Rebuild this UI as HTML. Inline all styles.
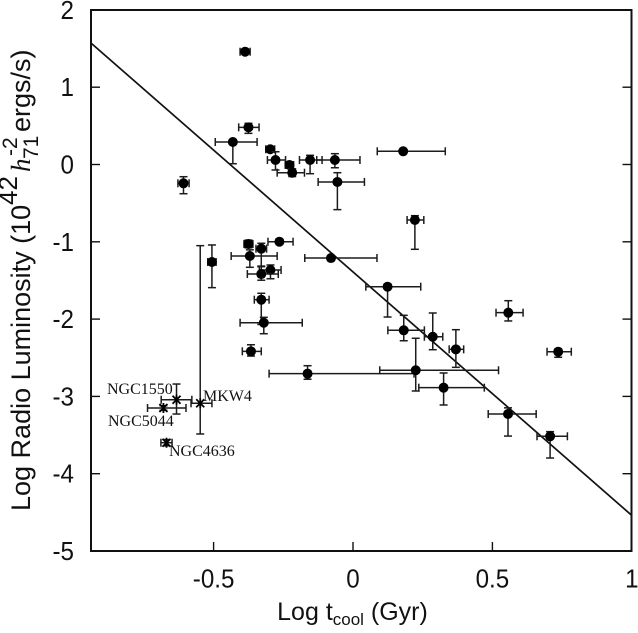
<!DOCTYPE html>
<html>
<head>
<meta charset="utf-8">
<title>Log Radio Luminosity vs Log t_cool</title>
<style>
html,body{margin:0;padding:0;background:#fff;}
svg{display:block;}
text{font-family:"Liberation Sans",Arial,sans-serif;fill:#111;}
.tick{font-size:26px;}
.name{font-family:"Liberation Serif","Times New Roman",serif;font-size:16px;}
</style>
</head>
<body>
<svg id="chart" width="638" height="633" viewBox="0 0 638 633" xmlns="http://www.w3.org/2000/svg">
  <g id="marks"></g>
  <g id="axes"></g>
  <text class="name" x="107" y="394">NGC1550</text>
  <text class="name" x="108" y="426">NGC5044</text>
  <text class="name" x="169" y="456">NGC4636</text>
  <text class="name" x="203" y="401">MKW4</text>
  <text x="352.5" y="620" text-anchor="middle" font-size="25">Log t<tspan font-size="17" dy="5">cool</tspan><tspan dy="-5"> (Gyr)</tspan></text>
  <g transform="translate(30,511) rotate(-90)">
    <text x="0" y="0" font-size="27">Log Radio Luminosity (10</text>
    <text x="306" y="-13" font-size="26">42</text>
    <text x="339" y="0" font-size="27" style="font-family:'Liberation Serif',serif;font-style:italic">h</text>
    <text x="355" y="-13" font-size="21">-2</text>
    <text x="352" y="8" font-size="21">71</text>
    <text x="379" y="0" font-size="27">ergs/s)</text>
  </g>
</svg>
<script>
// Axis ticks
var xTicks = [-0.5, 0, 0.5, 1];
var xTickLabels = ["-0.5", "0", "0.5", "1"];
var yTicks = [2, 1, 0, -1, -2, -3, -4, -5];
var yTickLabels = ["2", "1", "0", "-1", "-2", "-3", "-4", "-5"];

// Circle-marker clusters: log cooling time, log radio luminosity, asymmetric errors
var logTcool = [-0.387,-0.375,-0.431,-0.297,-0.278,-0.228,-0.218,-0.154,-0.065,-0.056,0.18,-0.608,-0.264,-0.375,-0.329,-0.37,-0.506,-0.296,-0.329,-0.329,-0.32,-0.366,-0.163,0.222,-0.079,0.124,0.182,0.286,0.369,0.557,0.736,0.225,0.325,0.556,0.707];
var logLradio = [1.459,0.481,0.291,0.197,0.058,-0.006,-0.106,0.058,0.058,-0.226,0.171,-0.243,-0.999,-1.028,-1.089,-1.184,-1.261,-1.365,-1.417,-1.749,-2.047,-2.417,-2.706,-0.718,-1.21,-1.581,-2.145,-2.228,-2.391,-1.917,-2.422,-2.662,-2.887,-3.228,-3.516];
var tErrMinus = [0.018,0.035,0.063,0.016,0.029,0.015,0.054,0.038,0.065,0.069,0.093,0.02,0.041,0.016,0.019,0.067,0.015,0.04,0.05,0.025,0.085,0.031,0.138,0.028,0.094,0.078,0.057,0.03,0.024,0.044,0.04,0.129,0.089,0.071,0.047];
var tErrPlus = [0.018,0.038,0.087,0.016,0.036,0.015,0.044,0.043,0.09,0.097,0.151,0.02,0.049,0.016,0.019,0.098,0.015,0.038,0.061,0.028,0.138,0.037,0.382,0.032,0.165,0.119,0.074,0.036,0.028,0.053,0.047,0.297,0.146,0.101,0.062];
var lErrDown = [0.02,0.078,0.281,0.03,0.129,0.04,0.05,0.177,0.1,0.358,0.02,0.135,0.03,0.05,0.233,0.146,0.332,0.113,0.08,0.32,0.142,0.061,0.072,0.379,0.03,0.392,0.135,0.168,0.233,0.107,0.072,0.268,0.224,0.285,0.281];
var lErrUp = [0.02,0.052,0.026,0.03,0.107,0.04,0.05,0.061,0.082,0.12,0.02,0.085,0.03,0.05,0.07,0.08,0.22,0.065,0.103,0.083,0.07,0.085,0.103,0.056,0.03,0.03,0.194,0.307,0.254,0.155,0.03,0.414,0.19,0.08,0.06];

// Named groups: star markers
var namedGroups = ["NGC1550", "NGC5044", "MKW4", "NGC4636"];
var namedTcool = [-0.633, -0.68, -0.548, -0.669];
var namedLradio = [-3.043, -3.15, -3.089, -3.599];
var namedTMinus = [0.055, 0.057, 0.033, 0.02];
var namedTPlus = [0.055, 0.081, 0.042, 0.02];
var namedLDown = [0.185, 0.03, 0.397, 0.04];
var namedLUp = [0.203, 0.03, 2.039, 0.04];

// Fit line end points
var fitT = [-0.94, 1];
var fitL = [1.572, -4.54];

var NS = "http://www.w3.org/2000/svg";
var INK = "#1c1c1c";
var left = 91, right = 631.5, top_ = 10, bottom = 551;
function X(v) { return 353 + 278.8 * v; }
function Y(v) { return 164.5 - 77.3 * v; }
function mk(parent, tag, attrs) {
  var el = document.createElementNS(NS, tag);
  for (var k in attrs) el.setAttribute(k, attrs[k]);
  parent.appendChild(el);
  return el;
}
function seg(parent, x1, y1, x2, y2, w, color) {
  return mk(parent, "line", {x1: x1, y1: y1, x2: x2, y2: y2, stroke: color || INK, "stroke-width": w || 1.5});
}
function errorBars(parent, x, y, xm, xp, yd, yu) {
  var c = 4;
  seg(parent, X(x - xm), Y(y), X(x + xp), Y(y));
  seg(parent, X(x - xm), Y(y) - c, X(x - xm), Y(y) + c);
  seg(parent, X(x + xp), Y(y) - c, X(x + xp), Y(y) + c);
  seg(parent, X(x), Y(y - yd), X(x), Y(y + yu));
  seg(parent, X(x) - c, Y(y - yd), X(x) + c, Y(y - yd));
  seg(parent, X(x) - c, Y(y + yu), X(x) + c, Y(y + yu));
}

var marks = document.getElementById("marks");
var axes = document.getElementById("axes");

// fit line
var fit = mk(marks, "line", {x1: X(fitT[0]), y1: Y(fitL[0]), x2: X(fitT[1]), y2: Y(fitL[1]), stroke: "#111", "stroke-width": 1.7});



// circle points
logTcool.forEach(function (t, i) {
  var g = mk(marks, "g", {});
  
  
  errorBars(g, t, logLradio[i], tErrMinus[i], tErrPlus[i], lErrDown[i], lErrUp[i]);
  mk(g, "circle", {cx: X(t), cy: Y(logLradio[i]), r: 5, fill: "#000"});
});

// named groups
namedGroups.forEach(function (name, i) {
  var g = mk(marks, "g", {});
  
  
  var cx = X(namedTcool[i]), cy = Y(namedLradio[i]);
  errorBars(g, namedTcool[i], namedLradio[i], namedTMinus[i], namedTPlus[i], namedLDown[i], namedLUp[i]);
  var s = 4;
  seg(g, cx - s, cy - s, cx + s, cy + s, 1.8, "#000");
  seg(g, cx - s, cy + s, cx + s, cy - s, 1.8, "#000");
  seg(g, cx, cy - s - 1, cx, cy + s + 1, 1.8, "#000");
});

// frame
var frame = mk(axes, "rect", {x: left, y: top_, width: right - left, height: bottom - top_, fill: "none", stroke: "#111", "stroke-width": 2});



// ticks and labels
xTicks.forEach(function (v, i) {
  var tick = seg(axes, X(v), bottom, X(v), bottom - 9, 1.4, "#111");
  
  
  var label = mk(axes, "text", {transform: "translate(" + X(v) + ",587.5) scale(0.93,1)", "text-anchor": "middle", "class": "tick"});
  label.textContent = xTickLabels[i];
  
  
});
yTicks.forEach(function (v, i) {
  var tickL = seg(axes, left, Y(v), left + 9, Y(v), 1.4, "#111");
  
  
  var tickR = seg(axes, right, Y(v), right - 9, Y(v), 1.4, "#111");
  
  
  var label = mk(axes, "text", {transform: "translate(74," + (Y(v) + 9) + ") scale(0.93,1)", "text-anchor": "end", "class": "tick"});
  label.textContent = yTickLabels[i];
  
  
});
</script>
</body>
</html>
